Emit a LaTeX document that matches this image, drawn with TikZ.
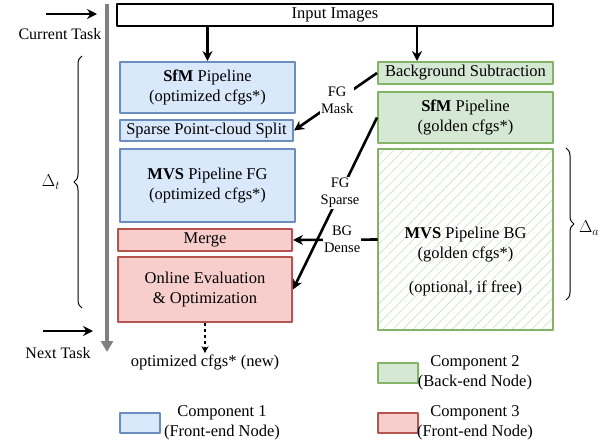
\documentclass[tikz,border=0pt]{standalone}
\usepackage{fontspec}
\setmainfont{Liberation Serif}
\usetikzlibrary{arrows.meta,patterns.meta,decorations.pathreplacing,positioning}
\definecolor{feFill}{HTML}{DAE8FC}
\definecolor{feDraw}{HTML}{6C8EBF}
\definecolor{beFill}{HTML}{D5E8D4}
\definecolor{beDraw}{HTML}{82B366}
\definecolor{beHatch}{HTML}{C9E0C2}
\definecolor{mgFill}{HTML}{F8CECC}
\definecolor{mgDraw}{HTML}{B85450}
\tikzset{
  txt/.style={font=\fontsize{16.5}{20}\selectfont, align=center, inner sep=1pt},
  box/.style={txt, draw, line width=2pt, inner sep=0pt},
  comp1/.style={box, fill=feFill, draw=feDraw},
  comp2/.style={box, fill=beFill, draw=beDraw},
  comp3/.style={box, fill=mgFill, draw=mgDraw},
  lbl/.style={font=\fontsize{14.5}{17}\selectfont, align=center, fill=white, inner sep=1pt},
  flow/.style={->, line width=2.6pt},
}
\begin{document}
\begin{tikzpicture}[x=1pt, y=-1pt, >={Stealth[length=10pt,width=10pt]}, line join=round]
  \useasboundingbox (0,0) rectangle (610,445);
  % time line
  \draw[gray, line width=3.5pt, -{Triangle[length=11pt,width=12pt]}] (107,4) -- (107,352);
  \draw[flow] (46,14) -- (97,14);
  \node[txt, font=\fontsize{16}{20}\selectfont] (cur) at (60,34) {Current Task};
  \draw[flow] (43,331) -- (93,331);
  \node[txt, font=\fontsize{16}{20}\selectfont] (nxt) at (58,353) {Next Task};
  % boxes
  \node[box, draw=black, minimum width=436pt, minimum height=22pt] (input) at (335,15) {Input Images};
  \node[comp1, minimum width=175pt, minimum height=51pt] (sfm) at (207.5,87.5) {\textbf{SfM} Pipeline\\(optimized cfgs*)};
  \node[comp1, minimum width=173pt, minimum height=21pt] (split) at (206.5,130.5) {Sparse Point-cloud Split};
  \node[comp1, minimum width=175pt, minimum height=73pt] (mvsfg) at (207.5,185.5) {\textbf{MVS} Pipeline FG\\(optimized cfgs*)};
  \node[comp3, minimum width=174pt, minimum height=22pt] (merge) at (205,240) {Merge};
  \node[comp3, minimum width=174pt, minimum height=65pt] (online) at (205,289.5) {Online Evaluation\\\& Optimization};
  \node[comp2, minimum width=175pt, minimum height=22pt] (bgsub) at (465.5,73) {Background Subtraction};
  \node[comp2, minimum width=175pt, minimum height=51pt] (sfmg) at (465.5,117.5) {\textbf{SfM} Pipeline\\(golden cfgs*)};
  \node[box, draw=beDraw, pattern={Lines[angle=45,distance=7pt,line width=0.6pt]}, pattern color=beHatch,
        minimum width=175pt, minimum height=181pt] (mvsbg) at (465.5,239.5) {};
  \node[txt] (mvsbgtxt) at (465.5,262) {\textbf{MVS} Pipeline BG\\(golden cfgs*)\\[14pt](optional, if free)};
  \node[txt] (newcfg) at (205,362) {optimized cfgs* (new)};
  % connectors
  \coordinate (bgin) at ([xshift=40pt]bgsub.north west);
  \draw[flow] (input.south -| sfm.north) -- (sfm.north);
  \draw[flow] (input.south -| bgin) -- (bgin);
  \draw[flow] (bgsub.west) -- node[lbl, pos=0.48] {FG\\Mask} (split.east);
  \draw[flow] (mvsbg.west) -- node[lbl, pos=0.42] {BG\\Dense} (merge.east);
  \draw[flow] (sfmg.west) -- node[lbl, pos=0.44] {FG\\Sparse} (online.east);
  \draw[->, dashed, line width=1.3pt, >={Stealth[length=7pt,width=7pt]}] (online.south) -- (newcfg.north);
  % braces
  \draw[decorate, decoration={brace, amplitude=8pt}, line width=1pt] (82,308) -- (82,56);
  \node[txt, font=\fontsize{18}{20}\selectfont] (dt) at (51,182) {$\Delta_t$};
  \draw[decorate, decoration={brace, amplitude=8pt}, line width=1pt] (566,148) -- (566,300);
  \node[txt, font=\fontsize{18}{20}\selectfont] (da) at (589,228) {$\Delta_a$};
  % legend
  \node[comp2, minimum width=40pt, minimum height=20pt] (leg2) at (398,373) {};
  \node[txt] (leg2txt) at (475,373) {Component 2\\(Back-end Node)};
  \node[comp1, minimum width=40pt, minimum height=20pt] (leg1) at (140,423) {};
  \node[txt] (leg1txt) at (222,423) {Component 1\\(Front-end Node)};
  \node[comp3, minimum width=40pt, minimum height=20pt] (leg3) at (398,423) {};
  \node[txt] (leg3txt) at (475,423) {Component 3\\(Front-end Node)};
\end{tikzpicture}
\end{document}
